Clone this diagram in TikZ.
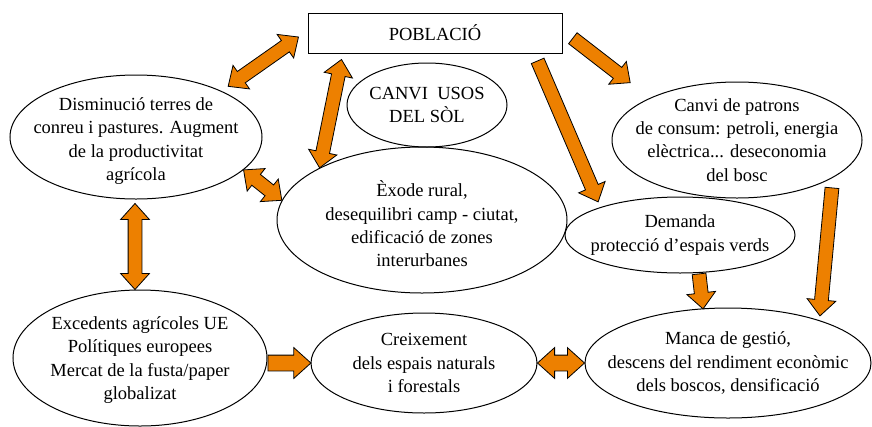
\documentclass[tikz,border=0pt]{standalone}
\usepackage{fontspec}
\setmainfont{Liberation Serif}
\usetikzlibrary{shapes.geometric, shapes.arrows, calc, positioning}
\definecolor{taronja}{RGB}{237,128,0}

\tikzset{
  txt/.style={align=center, font=\fontsize{18.5}{23.3}\selectfont},
  bubble/.style={ellipse, draw, line width=1pt, inner sep=0pt},
  arrbase/.style={draw=black, fill=taronja, line width=0.8pt, inner xsep=0pt, inner ysep=6.5pt},
  sarr/.style={arrbase, single arrow, single arrow head extend=7.5pt, single arrow tip angle=84, anchor=tail},
  darr/.style={arrbase, double arrow, double arrow head extend=7.5pt, double arrow tip angle=84, anchor=center},
  wide/.style={inner ysep=7.5pt}
}

% block arrows from one point to another
\newcommand\fletxa[3][]{%
  \path let \p1=#2, \p2=#3, \n1={atan2(\y2-\y1,\x2-\x1)}, \n2={veclen(\x2-\x1,\y2-\y1)}
    in node[sarr, #1, rotate=\n1, minimum height=\n2] at (\p1) {};}
\newcommand\dfletxa[3][]{%
  \path let \p1=#2, \p2=#3, \n1={atan2(\y2-\y1,\x2-\x1)}, \n2={veclen(\x2-\x1,\y2-\y1)}
    in node[darr, #1, rotate=\n1, minimum height=\n2] at ($(\p1)!0.5!(\p2)$) {};}

\begin{document}
\begin{tikzpicture}[x=1pt, y=-1pt]
  \useasboundingbox (0,0) rectangle (872,426);

  \node[draw, line width=1pt, minimum width=254pt, minimum height=40pt, txt] (pob) at (435,33) {POBLACIÓ};
  \node[bubble, minimum width=160pt, minimum height=84pt, label={[txt]center:{CANVI\ \ USOS\\DEL SÒL}}] (usos) at (427,105) {};
  \node[bubble, minimum width=252pt, minimum height=124pt, label={[txt, yshift=-4pt]center:{Disminució terres de\\conreu i pastures. Augment\\de la productivitat\\agrícola}}] (dism) at (136,137) {};
  \node[bubble, minimum width=250pt, minimum height=116pt, label={[txt]center:{Canvi de patrons\\de consum: petroli, energia\\elèctrica... deseconomia\\del bosc}}] (patr) at (737,140) {};
  \node[bubble, minimum width=290pt, minimum height=146pt, label={[txt, yshift=-4pt]center:{Èxode rural,\\desequilibri camp - ciutat,\\edificació de zones\\interurbanes}}] (exode) at (422,220) {};
  \node[bubble, minimum width=230pt, minimum height=76pt, label={[txt]center:{Demanda\\protecció d’espais verds}}] (dem) at (680,235) {};
  \node[bubble, minimum width=254pt, minimum height=136pt, label={[txt, yshift=-2pt]center:{Excedents agrícoles UE\\Polítiques europees\\Mercat de la fusta/paper\\globalizat}}] (exc) at (140,358) {};
  \node[bubble, minimum width=226pt, minimum height=100pt, label={[txt]center:{Creixement\\dels espais naturals\\i forestals}}] (creix) at (424,363) {};
  \node[bubble, minimum width=286pt, minimum height=110pt, label={[txt]center:{Manca de gestió,\\descens del rendiment econòmic\\dels boscos, densificació}}] (manca) at (728,363) {};

  \dfletxa{($(pob.west)+(-9,4)$)}{($(dism.29)+(8,-4)$)}
  \dfletxa{($(pob.south west)+(34,6)$)}{(exode.153)}
  \fletxa{($(pob.east)+(10,5)$)}{($(patr.north)+(-107,1)$)}
  \fletxa{($(pob.south east)+(-25,7)$)}{($(dem.north)+(-82,5)$)}
  \dfletxa{(dism.-17)}{(exode.172)}
  \dfletxa{($(dism.south)+(-1,4)$)}{($(exc.north)+(-5,0)$)}
  \fletxa[wide]{(exc.east |- creix.west)}{(creix.west)}
  \dfletxa[wide]{(creix.east)}{(manca.west)}
  \fletxa{($(dem.south)+(19,0)$)}{($(manca.north)+(-25,1)$)}
  \fletxa{($(patr.south)+(95,-11)$)}{($(manca.north)+(92,8)$)}
\end{tikzpicture}
\end{document}
